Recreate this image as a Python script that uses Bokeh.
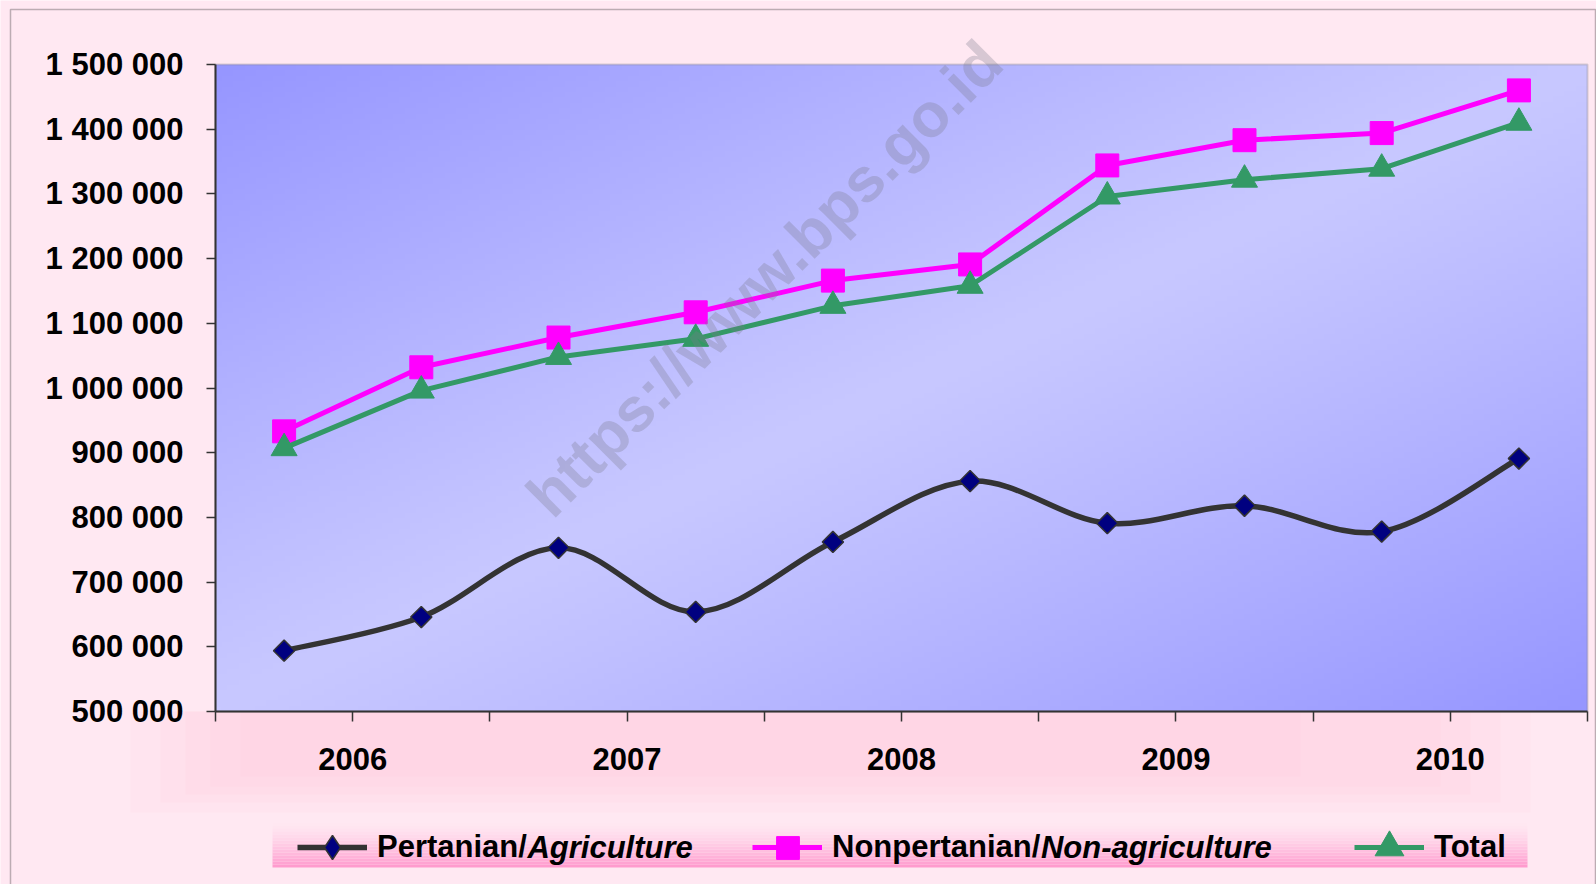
import numpy as np
from bokeh.plotting import figure
from bokeh.models import (Range1d, FixedTicker, Legend, LegendItem, Label,
                          BoxAnnotation)
from bokeh.embed import file_html
from bokeh.resources import INLINE

# ---------------- data ----------------
periods = ["Feb 2006", "Agt 2006", "Feb 2007", "Agt 2007", "Feb 2008",
           "Agt 2008", "Feb 2009", "Agt 2009", "Feb 2010", "Agt 2010"]
years = ["2006", "2007", "2008", "2009", "2010"]
agriculture = [594000, 646000, 753000, 654000, 762000,
               856000, 791000, 818000, 778000, 891000]
non_agriculture = [933000, 1032000, 1078000, 1117000, 1166000,
                   1191000, 1344000, 1383000, 1394000, 1460000]
total = [907000, 996000, 1048000, 1076000, 1127000,
         1158000, 1296000, 1322000, 1339000, 1410000]
y_tick_values = [500000, 600000, 700000, 800000, 900000, 1000000,
                 1100000, 1200000, 1300000, 1400000, 1500000]
y_tick_labels = ["500 000", "600 000", "700 000", "800 000", "900 000",
                 "1 000 000", "1 100 000", "1 200 000", "1 300 000",
                 "1 400 000", "1 500 000"]
series_names = ["Pertanian/", "Nonpertanian/", "Total"]
series_italic = ["Agriculture", "Non-agriculture", ""]
watermark = "https://www.bps.go.id"

FONT = "Liberation Sans"
N = len(periods)
YMIN, YMAX = 500000, 1500000
CW, CH = 1596, 884

# plot-area geometry on the canvas (px): left 215, right 1587, top 64, bottom 711
FL, FR, FT, FB = 215.0, 1587.0, 64.0, 711.0
PX_PER_X = (FR - FL) / N
PX_PER_Y = (FB - FT) / (YMAX - YMIN)


def dx(px):
    return (px - FL) / PX_PER_X


def dy(py):
    return YMIN + (FB - py) / PX_PER_Y


p = figure(width=CW, height=CH, x_range=Range1d(dx(0), dx(CW)),
           y_range=Range1d(dy(CH), dy(0)), output_backend="svg",
           toolbar_location=None, min_border_left=0, min_border_right=0,
           min_border_top=0, min_border_bottom=0)
p.border_fill_color = "#FFE8F2"
p.background_fill_color = "#FFE8F2"
p.outline_line_color = None
p.xgrid.visible = False
p.ygrid.visible = False

# soft pink band behind the category labels
for (l, r, bt) in [(130, 1530, 812), (160, 1500, 802), (185, 1470, 794),
                   (210, 1440, 786), (240, 1300, 776)]:
    p.add_layout(BoxAnnotation(left=dx(l), right=dx(r), top=dy(FB), bottom=dy(bt),
                               fill_color="#FFB8D6", fill_alpha=0.09, line_alpha=0,
                               level="underlay"))

# plot area gradient background (style only)
H, W = 120, 240
yy, xx = np.mgrid[0:H, 0:W]
xn = xx / (W - 1)
yn_top = 1 - yy / (H - 1)          # row 0 is bottom
t = np.abs(xn + yn_top - 1.0)
t = np.clip(t, 0, 1) ** 1.1
light = np.array([200, 200, 255])
dark = np.array([150, 150, 255])
rgb = light[None, None, :] + (dark - light)[None, None, :] * t[:, :, None]
img = np.zeros((H, W), dtype=np.uint32)
view = img.view(dtype=np.uint8).reshape((H, W, 4))
view[:, :, 0] = rgb[:, :, 0].astype(np.uint8)
view[:, :, 1] = rgb[:, :, 1].astype(np.uint8)
view[:, :, 2] = rgb[:, :, 2].astype(np.uint8)
view[:, :, 3] = 255
p.image_rgba(image=[img], x=0, y=YMIN, dw=N, dh=YMAX - YMIN, level="image")

# plot-area outline
p.add_layout(BoxAnnotation(left=0, right=N, bottom=YMIN, top=YMAX, fill_alpha=0,
                           line_color="#808080", line_width=2, level="underlay"))

xs = [i + 0.5 for i in range(N)]

# smoothed agriculture line (Bezier segments through the data points)
pts = np.array([xs, agriculture], dtype=float).T
x0, y0, x1, y1, cx0, cy0, cx1, cy1 = ([] for _ in range(8))
for i in range(N - 1):
    P0 = pts[i - 1] if i > 0 else pts[i]
    P1, P2 = pts[i], pts[i + 1]
    P3 = pts[i + 2] if i + 2 < N else pts[i + 1]
    C1 = P1 + (P2 - P0) / 6.0
    C2 = P2 - (P3 - P1) / 6.0
    x0.append(P1[0]); y0.append(P1[1]); x1.append(P2[0]); y1.append(P2[1])
    cx0.append(C1[0]); cy0.append(C1[1]); cx1.append(C2[0]); cy1.append(C2[1])
agri_line = p.bezier(x0=x0, y0=y0, x1=x1, y1=y1, cx0=cx0, cy0=cy0, cx1=cx1,
                     cy1=cy1, line_color="#333333", line_width=5.5)
# diamond glyph (hidden under the rotated squares) used as the legend key
agri_key = p.scatter(xs, agriculture, marker="diamond", size=18,
                     fill_color="#000080", line_color="#333333", line_width=1.5)
agri_pts = p.scatter(xs, agriculture, marker="square", angle=45,
                     angle_units="deg", size=15, fill_color="#000080",
                     line_color="#333333", line_width=1.5)

non_line = p.line(xs, non_agriculture, line_color="#FF00FF", line_width=5)
non_pts = p.scatter(xs, non_agriculture, marker="square", size=23,
                    fill_color="#FF00FF", line_color="#FF00FF")

tot_line = p.line(xs, total, line_color="#339966", line_width=5)
tot_pts = p.scatter(xs, total, marker="triangle", size=26,
                    fill_color="#339966", line_color="#339966")

# axes (fixed at the plot-area edges)
p.yaxis.fixed_location = 0
p.yaxis.bounds = (YMIN, YMAX)
p.xaxis.fixed_location = YMIN
p.xaxis.bounds = (0, N)
p.yaxis.ticker = FixedTicker(ticks=y_tick_values)
p.yaxis.major_label_overrides = dict(zip(y_tick_values, y_tick_labels))
p.xaxis.ticker = FixedTicker(ticks=list(range(N + 1)))
xlab = {i: "" for i in range(N + 1)}
for k, yr in enumerate(years):
    xlab[2 * k + 1] = yr
p.xaxis.major_label_overrides = xlab
for ax in (p.xaxis[0], p.yaxis[0]):
    ax.axis_line_color = "#333333"
    ax.axis_line_width = 2
    ax.major_tick_line_color = "#333333"
    ax.major_tick_line_width = 1.5
    ax.major_tick_in = 0
    ax.minor_tick_line_color = None
    ax.major_label_text_font = FONT
    ax.major_label_text_font_style = "bold"
    ax.major_label_text_font_size = "31px"
    ax.major_label_text_color = "black"
p.yaxis.major_tick_out = 9
p.yaxis.major_label_standoff = 23
p.xaxis.major_tick_out = 10
p.xaxis.major_label_standoff = 26

# legend band (gradient strips)
band_top, band_bot = 822.0, 867.0
nstrip = 15
c_top = np.array([255, 232, 242])
c_bot = np.array([255, 152, 205])
for k in range(nstrip):
    a = band_top + (band_bot - band_top) * k / nstrip
    b = band_top + (band_bot - band_top) * (k + 1) / nstrip
    f = ((k + 0.5) / nstrip) ** 1.5
    c = (c_top + (c_bot - c_top) * f).astype(int)
    p.add_layout(BoxAnnotation(left=dx(272), right=dx(1527), top=dy(a), bottom=dy(b),
                               fill_color="#%02x%02x%02x" % tuple(c), fill_alpha=1,
                               line_alpha=0, level="underlay"))

# legends: line+label, then marker on top
LEG_CY = 847.0


def add_legend(label, renderers, left_px, gw, gh, standoff, lh):
    h = max(gh, lh)
    lg = Legend(items=[LegendItem(label=label, renderers=renderers)],
                location=(left_px, CH - LEG_CY - h / 2.0),
                orientation="horizontal", glyph_width=gw, glyph_height=gh,
                label_height=lh, label_standoff=standoff, padding=0, margin=0,
                spacing=0, background_fill_alpha=0, border_line_alpha=0,
                label_text_font=FONT, label_text_font_style="bold",
                label_text_font_size="31px", label_text_color="black")
    p.add_layout(lg, "center")


icon_left = [297, 752, 1354]
lines = [agri_line, non_line, tot_line]
marks = [agri_key, non_pts, tot_pts]
msize = [60, 57, 72]
for name, ln, mk, il, ms in zip(series_names, lines, marks, icon_left, msize):
    add_legend(name, [ln], il, 70, 40, 10, 40)
    add_legend(" ", [mk], il + 35 - ms / 2.0, ms, ms, 0, ms)

# italic parts of legend labels
label_w = [149.9, 208.4]
for k in range(2):
    p.add_layout(Label(x=dx(icon_left[k] + 80 + label_w[k]), y=dy(LEG_CY),
                       text=series_italic[k], text_font=FONT,
                       text_font_style="bold italic", text_font_size="31px",
                       text_color="black", text_baseline="middle",
                       text_align="left"))

# watermark
p.add_layout(Label(x=dx(764), y=dy(278), text=watermark, angle=45,
                   angle_units="deg", text_align="center", text_baseline="middle",
                   text_font=FONT, text_font_style="bold", text_font_size="62px",
                   text_color="#7A7A8A", text_alpha=0.3))

# outer chart border
p.add_layout(BoxAnnotation(left=dx(10), right=dx(1595), top=dy(9), bottom=dy(900),
                           fill_alpha=0, line_color="#222222", line_width=1.5))

open("out.html", "w").write(file_html(p, INLINE))
